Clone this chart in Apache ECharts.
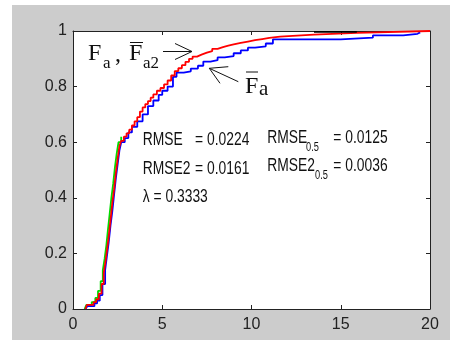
<!DOCTYPE html>
<html><head><meta charset="utf-8">
<script src="https://cdn.jsdelivr.net/npm/echarts/dist/echarts.min.js"></script>
<style>html,body{margin:0;padding:0;background:#fff}#c{width:450px;height:340px}</style>
</head><body><div id="c"></div>
<script>
// ---- data ----
const xTicks = [0, 5, 10, 15, 20];
const yTicks = [0, 0.2, 0.4, 0.6, 0.8, 1];

// Fa2 (red)
const redX = [0.7, 0.78, 1.15, 1.3, 1.45, 1.6, 1.72, 1.82, 1.92, 2.0, 2.1, 2.2, 2.3, 2.4, 2.5, 2.6, 2.7, 2.85, 3.0, 3.15, 3.3, 3.45, 3.6, 3.75, 3.9, 4.05, 4.2, 4.35, 4.5, 4.7, 4.9, 5.1, 5.3, 5.5, 5.7, 5.9, 6.1, 6.3, 6.5, 6.7, 6.95, 7.2, 7.5, 7.8, 8.1, 8.4, 8.7, 9.0, 9.4, 9.8, 10.2, 10.6, 11.0, 11.6, 13.5, 15.9, 20];
const redY = [0.0, 0.015, 0.025, 0.035, 0.055, 0.09, 0.13, 0.17, 0.22, 0.26, 0.32, 0.38, 0.43, 0.49, 0.54, 0.585, 0.605, 0.62, 0.632, 0.645, 0.66, 0.675, 0.69, 0.71, 0.725, 0.737, 0.748, 0.76, 0.772, 0.785, 0.795, 0.808, 0.822, 0.84, 0.856, 0.866, 0.877, 0.889, 0.90, 0.908, 0.915, 0.922, 0.928, 0.936, 0.942, 0.947, 0.952, 0.957, 0.962, 0.967, 0.971, 0.975, 0.98, 0.987, 0.993, 1.0, 1.0];

// F̄a (blue)
const blueX = [0.7, 0.8, 1.2, 1.35, 1.5, 1.65, 1.8, 1.9, 2.0, 2.1, 2.2, 2.3, 2.4, 2.5, 2.6, 2.7, 2.9, 3.1, 3.3, 3.6, 3.9, 4.2, 4.5, 4.8, 5.0, 5.3, 5.6, 5.8, 6.2, 6.6, 7.0, 7.3, 7.7, 8.1, 8.5, 9.0, 9.4, 9.8, 10.2, 10.8, 11.2, 15.0, 16.8, 18.5, 19.3, 19.45];
const blueY = [0.0, 0.01, 0.02, 0.03, 0.05, 0.09, 0.14, 0.19, 0.24, 0.30, 0.35, 0.41, 0.47, 0.52, 0.57, 0.60, 0.615, 0.635, 0.655, 0.675, 0.70, 0.73, 0.75, 0.77, 0.785, 0.80, 0.835, 0.85, 0.855, 0.865, 0.875, 0.89, 0.895, 0.905, 0.91, 0.92, 0.93, 0.94, 0.945, 0.955, 0.97, 0.976, 0.984, 0.99, 0.995, 0.995];

// Fa (green, mostly hidden under red)
const greenX = [0.65, 0.75, 1.05, 1.25, 1.4, 1.55, 1.67, 1.77, 1.87, 1.95, 2.05, 2.15, 2.25, 2.35, 2.45, 2.55, 2.7];
const greenY = [0.0, 0.015, 0.025, 0.04, 0.065, 0.10, 0.14, 0.18, 0.23, 0.28, 0.34, 0.40, 0.45, 0.51, 0.56, 0.60, 0.62];

// fourth (black) curve, visible only near the top
const blackX = [13.5, 15.9];
const blackY = [0.997, 0.997];

const annotations = {
  rmse: 'RMSE', rmseVal: '= 0.0224',
  rmse2: 'RMSE2', rmse2Val: '= 0.0161',
  lambda: 'λ = 0.3333',
  rmse05: 'RMSE', rmse05Val: '= 0.0125',
  rmse205: 'RMSE2', rmse205Val: '= 0.0036',
  sub: '0.5'
};

const zip = (xs, ys) => xs.map((x, i) => [x, ys[i]]);

function hasFont(name) {
  const c = document.createElement('canvas').getContext('2d');
  const s = 'RMSE 0.0224 abcdefghij';
  c.font = '40px monospace'; const w1 = c.measureText(s).width;
  c.font = '40px "' + name + '", monospace'; const w2 = c.measureText(s).width;
  return Math.abs(w1 - w2) > 1;
}
const narrowOK = hasFont('Liberation Sans Narrow');
const tickFont = narrowOK ? 'Liberation Sans Narrow' : 'Liberation Sans';
const tickSize = narrowOK ? 18 : 16;

const chart = echarts.init(document.getElementById('c'), null, {renderer: 'canvas'});
const axisCol = '#222';
const sans = 'Liberation Sans, Arial, sans-serif';
const serif = 'Liberation Serif, Times New Roman, serif';

function txt(x, y, text, size, family, scaleX) {
  return {
    type: 'text', x: x, y: y, scaleX: scaleX || 1, z: 100,
    style: {text: text, fontSize: size, fontFamily: family, fill: '#111',
            align: 'left', verticalAlign: 'middle', textAlign: 'left', textVerticalAlign: 'middle'}
  };
}
function ln(x1, y1, x2, y2) {
  return {type: 'line', z: 100, shape: {x1, y1, x2, y2}, style: {stroke: '#111', lineWidth: 1}};
}

const sx = 0.77;
const fs = 18;
const graphics = [
  {type: 'rect', z: -10, shape: {x: 12, y: 5, width: 438, height: 335}, style: {fill: '#cccccc'}},
  // curve labels
  txt(88, 54, 'F', 24, serif),
  txt(103, 64, 'a', 17, serif),
  txt(115, 55, ',', 24, serif),
  txt(129, 54, 'F', 24, serif),
  ln(130, 42.5, 143, 42.5),
  txt(143, 64, 'a2', 17, serif),
  ln(163, 51.5, 192, 51.5), ln(192, 51.5, 175, 43.5), ln(192, 51.5, 175, 59.5),
  txt(245, 87, 'F', 24, serif),
  txt(259, 89, 'a', 21, serif),
  ln(246, 72, 258, 72),
  ln(238.3, 81.7, 209.3, 68.3), ln(209.3, 68.3, 228.3, 66.7), ln(209.3, 68.3, 220, 83.3),
  // stats
  txt(142.7, 140, annotations.rmse, fs, sans, sx),
  txt(195, 140, annotations.rmseVal, fs, sans, sx),
  txt(142.7, 169, annotations.rmse2, fs, sans, sx),
  txt(195, 169, annotations.rmse2Val, fs, sans, sx),
  txt(142.7, 197, annotations.lambda, fs, sans, sx),
  txt(267.3, 137.7, annotations.rmse05, fs, sans, sx),
  txt(306, 147.5, annotations.sub, 12, sans, sx),
  txt(333.3, 137.7, annotations.rmse05Val, fs, sans, sx),
  txt(267.3, 166, annotations.rmse205, fs, sans, sx),
  txt(315, 176, annotations.sub, 12, sans, sx),
  txt(333.3, 166, annotations.rmse205Val, fs, sans, sx)
];

const axisCommon = {
  type: 'value',
  axisLine: {show: true, onZero: false, lineStyle: {color: axisCol, width: 1}},
  axisTick: {show: true, inside: true, length: 4, lineStyle: {color: axisCol}},
  splitLine: {show: false}
};

function series(name, xs, ys, color, w) {
  return {name, type: 'line', step: 'end', data: zip(xs, ys), showSymbol: false, symbol: 'none',
          lineStyle: {color, width: w}, itemStyle: {color}, animation: false, clip: true};
}

chart.setOption({
  animation: false,
  backgroundColor: '#ffffff',
  grid: {left: 73, right: 20, top: 31, bottom: 31, show: true, backgroundColor: '#ffffff', borderWidth: 0},
  xAxis: [
    Object.assign({}, axisCommon, {min: xTicks[0], max: xTicks[xTicks.length - 1], interval: xTicks[1] - xTicks[0], position: 'bottom',
      axisLabel: {fontSize: tickSize, color: '#222', margin: 8, fontFamily: tickFont}}),
    Object.assign({}, axisCommon, {min: xTicks[0], max: xTicks[xTicks.length - 1], interval: xTicks[1] - xTicks[0], position: 'top',
      axisLabel: {show: false}})
  ],
  yAxis: [
    Object.assign({}, axisCommon, {min: yTicks[0], max: yTicks[yTicks.length - 1], interval: 0.2, position: 'left',
      axisLabel: {fontSize: tickSize, color: '#222', margin: 6, fontFamily: tickFont,
        formatter: v => (v === 0 || v === 1) ? String(v) : v.toFixed(1)}}),
    Object.assign({}, axisCommon, {min: yTicks[0], max: yTicks[yTicks.length - 1], interval: 0.2, position: 'right',
      axisLabel: {show: false}})
  ],
  series: [
    series('Fa', greenX, greenY, '#00dd00', 1.8),
    series('F̄a', blueX, blueY, '#0000ff', 1.8),
    series('F̄a2', redX, redY, '#ff0000', 1.8),
    series('other', blackX, blackY, '#000000', 1.8)
  ],
  graphic: graphics
});
</script>
</body></html>
